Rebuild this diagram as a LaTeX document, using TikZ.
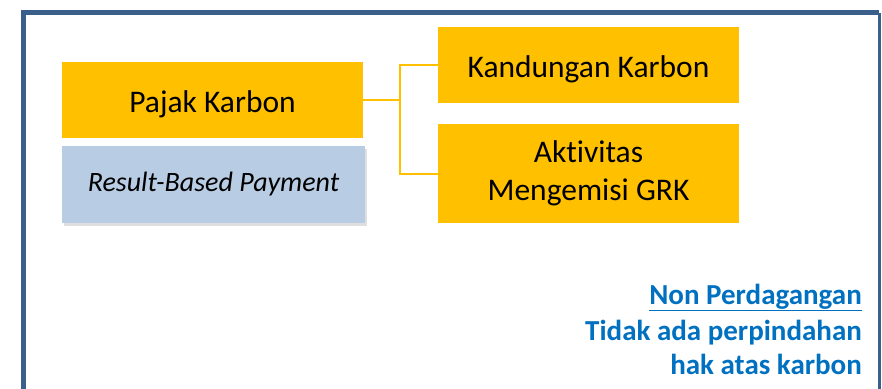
\documentclass[tikz,border=0pt]{standalone}
\usepackage{fontspec}
\setmainfont{Carlito}[Ligatures=NoCommon]
\usepackage{tikz}
\usetikzlibrary{shapes,positioning,calc}
\usetikzlibrary{shadows}
\definecolor{gold}{RGB}{255,192,0}
\definecolor{paleblue}{RGB}{184,204,228}
\definecolor{framecol}{RGB}{58,95,139}
\definecolor{textblue}{RGB}{0,112,192}
\tikzstyle{pajak} = [rectangle, fill=gold, inner sep=0pt, minimum width=301pt, minimum height=76pt, text centered, font=\fontsize{31.5}{38}\selectfont]
\tikzstyle{rbp} = [rectangle, fill=paleblue, inner sep=0pt, minimum width=303pt, minimum height=77pt, text centered, font=\fontsize{28}{32}\selectfont\itshape, drop shadow={opacity=0.25, shadow xshift=2pt, shadow yshift=-3pt}]
\tikzstyle{catatan} = [inner sep=0pt, text=textblue, font=\fontsize{29}{35}\selectfont\bfseries, anchor=base east]
\tikzstyle{garis} = [draw=gold, line width=2pt]

\begin{document}
\begin{tikzpicture}[x=1pt, y=-1pt]
				\useasboundingbox (0,0) rectangle (882,388);
				% bingkai
				\draw[framecol, line width=5pt] (23.5,392) -- (23.5,12.5) -- (879,12.5);
				\draw[framecol, line width=3pt] (879,12.5) -- (879,392);
				% kotak
				\node (pk) at (212.5,100) [pajak, text height=24pt, text depth=0pt] {Pajak Karbon};
				\node (rb) at (213.5,184.5) [rbp] {Result-Based Payment};
				\node (kk) at (588.5,65) [pajak, text height=24pt, text depth=0pt] {Kandungan Karbon};
				\node (ak) at (588.5,173.5) [pajak, minimum height=99pt, align=center] {Aktivitas\\Mengemisi GRK};
				\coordinate (cab) at (400,100);
				\draw[garis] (pk.east) -- (cab);
				\draw[garis] (cab) |- (kk.west);
				\draw[garis] (cab) |- (ak.west);
				% keterangan
				\node (np) at (862,304) [catatan] {\underline{Non Perdagangan}};
				\node (tp) at (862,340) [catatan] {Tidak ada perpindahan};
				\node (hk) at (862,374) [catatan] {hak atas karbon};
				\end{tikzpicture}
\end{document}
